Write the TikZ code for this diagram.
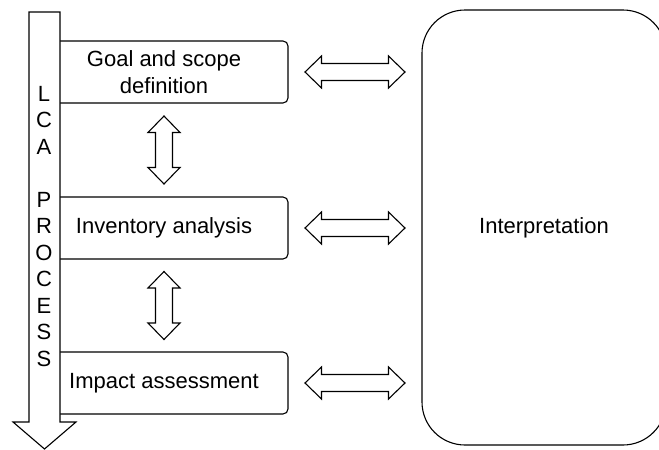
\documentclass[tikz,border=0pt]{standalone}
\usepackage{fontspec}
\setmainfont{Liberation Sans}
\usetikzlibrary{calc}

\tikzset{
  stage/.style={draw, line width=1.1pt, rounded corners=5pt, minimum width=248pt,
    minimum height=62pt, align=center},
  pics/dbl/.style={code={
    \draw[line width=1.1pt, fill=white] (-#1,0) -- (-#1+16.5,16) -- (-#1+16.5,8.5)
      -- (#1-16.5,8.5) -- (#1-16.5,16) -- (#1,0) -- (#1-16.5,-16) -- (#1-16.5,-8.5)
      -- (-#1+16.5,-8.5) -- (-#1+16.5,-16) -- cycle;
  }}
}

\begin{document}
\begin{tikzpicture}[x=1pt, y=-1pt, font=\fontsize{22}{26.5}\selectfont]
\useasboundingbox (0,0) rectangle (659,450);
\clip (0,0) rectangle (659,450);

% stages
\node[stage] (goal) at (164,72) {Goal and scope\\definition};
\node[stage] (inv) at (164,228) {Inventory analysis};
\node[stage] (impact) at (164,383) {Impact assessment};
\node[draw, line width=1.1pt, rounded corners=43pt, minimum width=244pt,
  minimum height=435pt] (interp) at (544,227.5) {Interpretation};

% process arrow
\draw[line width=1.1pt, fill=white] (29,12) -- (60,12) -- (60,422) -- (76,422)
  -- (44.5,449) -- (13,422) -- (29,422) -- cycle;
\node[align=center, inner sep=0pt] (lca) at (44,226.5) {L\\C\\A\\~\\P\\R\\O\\C\\E\\S\\S};

% links
\pic[rotate=90] at ($(goal.south)!0.5!(inv.north)$) {dbl=34};
\pic[rotate=90] at ($(inv.south)!0.5!(impact.north)$) {dbl=34};
\pic at ($(goal.east)!0.5!(goal.east -| interp.west)$) {dbl=50};
\pic at ($(inv.east)!0.5!(inv.east -| interp.west)$) {dbl=50};
\pic at ($(impact.east)!0.5!(impact.east -| interp.west)$) {dbl=50};
\end{tikzpicture}
\end{document}
